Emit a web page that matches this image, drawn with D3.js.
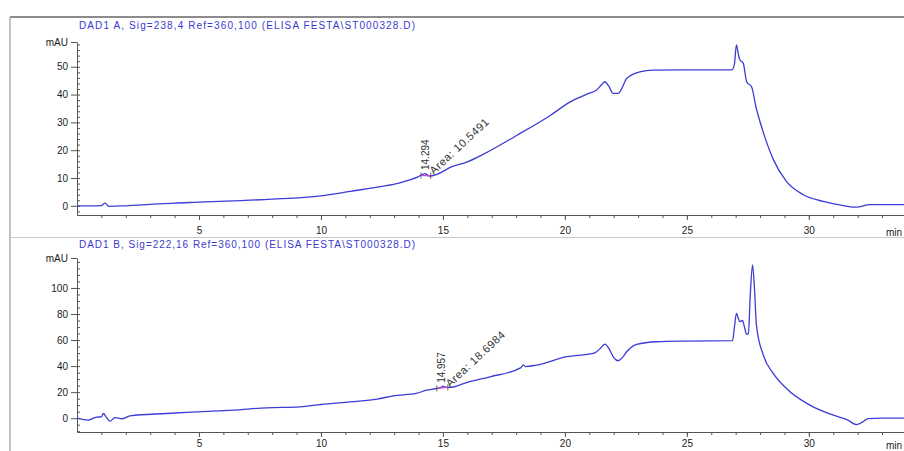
<!DOCTYPE html>
<html>
<head>
<meta charset="utf-8">
<script src="https://cdn.jsdelivr.net/npm/d3@7"></script>
<style>
  body { margin: 0; background: #fff; }
  svg { display: block; font-family: "Liberation Sans", Arial, sans-serif; }
  .axis path, .axis line { stroke: #555; }
  .axis text { fill: #222; font-size: 10px; }
</style>
</head>
<body>
<svg id="chart" width="904" height="451"></svg>
<script>
// retention time (min) and absorbance (mAU)
const timeA = [0, 0.5, 1.0, 1.15, 1.3, 1.6, 2.0, 3.0, 4.0, 5.0, 6.4, 8.0, 10.0, 11.2, 12.5, 13.2, 14.0, 14.26, 14.45, 14.75,
    15.3, 16.0, 16.65, 18.0, 19.4, 20.2, 21.0, 21.3, 21.5, 21.64, 21.8, 21.98, 22.19, 22.35, 22.53, 23.07, 23.62, 25.0, 26.85, 26.95,
    27.03, 27.1, 27.17, 27.31, 27.45, 27.65, 27.85, 28.13, 28.54, 29.08, 29.77, 30.59, 31.41, 31.95, 32.5, 33.0, 33.9];
const valA = [0, 0, 0.1, 1.0, -0.2, -0.1, 0, 0.5, 1.0, 1.3, 1.8, 2.4, 3.6, 5.2, 7.0, 8.2, 10.5, 11.6, 10.7, 11.3,
    13.8, 15.8, 18.5, 25.2, 32.5, 37.3, 40.5, 41.6, 43.5, 44.6, 43.0, 40.4, 40.4, 42.5, 45.8, 48.2, 48.8, 48.9, 48.9, 51,
    57.9, 55, 52.5, 51.3, 44.6, 42.8, 34.9, 26.5, 16.7, 8.8, 4.0, 1.6, 0.1, -0.5, 0.4, 0.4, 0.4];

const timeB = [0, 0.45, 0.8, 1.0, 1.08, 1.2, 1.35, 1.56, 1.83, 2.17, 3.67, 5.0, 6.4, 7.77, 9.14, 10.0, 11.2, 12.3, 12.96, 13.9,
    14.33, 14.74, 14.9, 15.01, 15.1, 15.29, 15.97, 16.93, 18.2, 18.29, 18.38, 18.84, 20.07, 21.16, 21.3, 21.5, 21.64, 21.84, 22.0, 22.19,
    22.35, 22.53, 22.94, 23.76, 25.0, 26.87, 26.95, 27.03, 27.12, 27.17, 27.28, 27.36, 27.45, 27.52, 27.6, 27.69, 27.77, 27.85, 28.13, 28.54,
    29.08, 30.04, 31.0, 31.6, 31.95, 32.2, 32.43, 33.0, 33.9];
const valB = [0.2, -1.5, 0.8, 1.0, 3.6, 0.8, -2.3, 0.5, -0.5, 1.8, 3.6, 4.9, 6.2, 8.0, 8.7, 10.5, 12.6, 14.6, 17.2, 19.0,
    21.5, 22.8, 23.5, 24.6, 23.8, 23.6, 27.4, 31.8, 38.8, 41.0, 39.6, 40.8, 47.2, 49.7, 51.0, 54.5, 56.9, 52.3, 46.5, 44.1,
    46.5, 51.0, 56.7, 58.7, 59.2, 59.5, 70, 80.5, 76, 74.1, 75, 70, 64.4, 65, 95, 117.7, 100, 71.5, 48.5, 34.4,
    22.8, 10.0, 2.3, -1.5, -4.9, -3, -0.3, 0, 0];

const xTicks = [5, 10, 15, 20, 25, 30];
const yTicksA = [0, 10, 20, 30, 40, 50];
const yTicksB = [0, 20, 40, 60, 80, 100];

const titles = [
    "DAD1 A, Sig=238,4 Ref=360,100 (ELISA FESTA\\ST000328.D)",
    "DAD1 B, Sig=222,16 Ref=360,100 (ELISA FESTA\\ST000328.D)"
];
// integrated peak: retention time, area, start/end of the baseline
const peakA = { rt: 14.294, area: 10.5491, from: 14.1, to: 14.5 };
const peakB = { rt: 14.957, area: 18.6984, from: 14.75, to: 15.2 };

const svg = d3.select("#chart");
const x = d3.scaleLinear().domain([0, 33.9]).range([77, 904]);

// frame
svg.append("line").attr("x1", 10).attr("x2", 904).attr("y1", 17).attr("y2", 17)
    .attr("stroke", "#666").attr("stroke-width", 1.5);
svg.append("line").attr("x1", 10).attr("x2", 10).attr("y1", 17).attr("y2", 451)
    .attr("stroke", "#999").attr("stroke-width", 1.2);
svg.append("line").attr("x1", 10).attr("x2", 904).attr("y1", 237.5).attr("y2", 237.5)
    .attr("stroke", "#c8c8c8").attr("stroke-width", 1);

function drawPanel(o) {
    const g = svg.append("g");
    const y = d3.scaleLinear().domain(o.yDomain).range(o.yRange);
    const bottom = o.yRange[0];

    g.append("text")
        .attr("x", 247).attr("y", o.titleY)
        .attr("text-anchor", "middle")
        .attr("fill", "#3a3ad0")
        .attr("font-size", 10)
        .attr("textLength", 336)
        .text(o.title);

    // y axis: major ticks left, minor ticks right
    const yTop = o.yDomain[1];
    g.append("g").attr("class", "axis")
        .attr("transform", `translate(${x(0)},0)`)
        .call(d3.axisLeft(y).tickValues(o.yTicks.concat([yTop])).tickSizeOuter(0).tickSizeInner(6)
            .tickFormat(d => d === yTop ? "mAU" : d));
    g.append("g").attr("class", "axis")
        .attr("transform", `translate(${x(0)},0)`)
        .call(d3.axisRight(y).tickValues(d3.range(Math.ceil(o.yDomain[0] / o.minor) * o.minor, yTop, o.minor))
            .tickSizeOuter(0).tickSizeInner(3).tickFormat(""))
        .select(".domain").remove();

    // x axis
    g.append("g").attr("class", "axis")
        .attr("transform", `translate(0,${bottom})`)
        .call(d3.axisBottom(x).tickValues(xTicks).tickSizeOuter(0).tickSizeInner(5).tickPadding(o.xPad));
    g.append("g").attr("class", "axis")
        .attr("transform", `translate(0,${bottom})`)
        .call(d3.axisBottom(x).tickValues(d3.range(1, 34)).tickSizeOuter(0).tickSizeInner(3).tickFormat(""))
        .select(".domain").remove();
    g.append("text")
        .attr("x", 886).attr("y", bottom + o.xPad + 14)
        .attr("fill", "#222").attr("font-size", 10)
        .text("min");

    // signal
    const data = o.t.map((t, i) => [t, o.v[i]]);
    const line = d3.line().x(d => x(d[0])).y(d => y(d[1])).curve(d3.curveMonotoneX);
    g.append("path").datum(data)
        .attr("fill", "none")
        .attr("stroke", "#3c3cd6")
        .attr("stroke-width", 1.3)
        .attr("d", line);

    // integration baseline + labels
    const interp = t => {
        const i = d3.bisectLeft(o.t, t);
        const t0 = o.t[i - 1], t1 = o.t[i];
        return o.v[i - 1] + (o.v[i] - o.v[i - 1]) * (t - t0) / (t1 - t0);
    };
    const p = o.peak;
    g.append("line")
        .attr("x1", x(p.from)).attr("y1", y(interp(p.from)))
        .attr("x2", x(p.to)).attr("y2", y(interp(p.to)))
        .attr("stroke", "#d040d0").attr("stroke-width", 1.2);
    [p.from, p.to].forEach(t => {
        g.append("line")
            .attr("x1", x(t)).attr("x2", x(t))
            .attr("y1", y(interp(t)) - 3).attr("y2", y(interp(t)) + 3)
            .attr("stroke", "#444").attr("stroke-width", 0.8);
    });
    const px = x(p.rt), py = y(interp(p.rt));
    g.append("text")
        .attr("transform", `translate(${px + 3},${py - 4}) rotate(-90)`)
        .attr("fill", "#333").attr("font-size", 10)
        .text(p.rt.toFixed(3));
    const ax = x(p.rt) + 8, ay = y(interp(p.rt)) + 1;
    g.append("text")
        .attr("transform", `translate(${ax},${ay}) rotate(-43)`)
        .attr("fill", "#333").attr("font-size", 11).attr("letter-spacing", 0.6)
        .text("Area: " + p.area.toFixed(4));
}

drawPanel({
    title: titles[0], titleY: 29,
    t: timeA, v: valA,
    yDomain: [-3.3, 58.9], yRange: [215, 42],
    yTicks: yTicksA, minor: 2, xPad: 7,
    peak: peakA
});
drawPanel({
    title: titles[1], titleY: 248,
    t: timeB, v: valB,
    yDomain: [-10.6, 123], yRange: [432, 258],
    yTicks: yTicksB, minor: 5, xPad: 3,
    peak: peakB
});
</script>
</body>
</html>
